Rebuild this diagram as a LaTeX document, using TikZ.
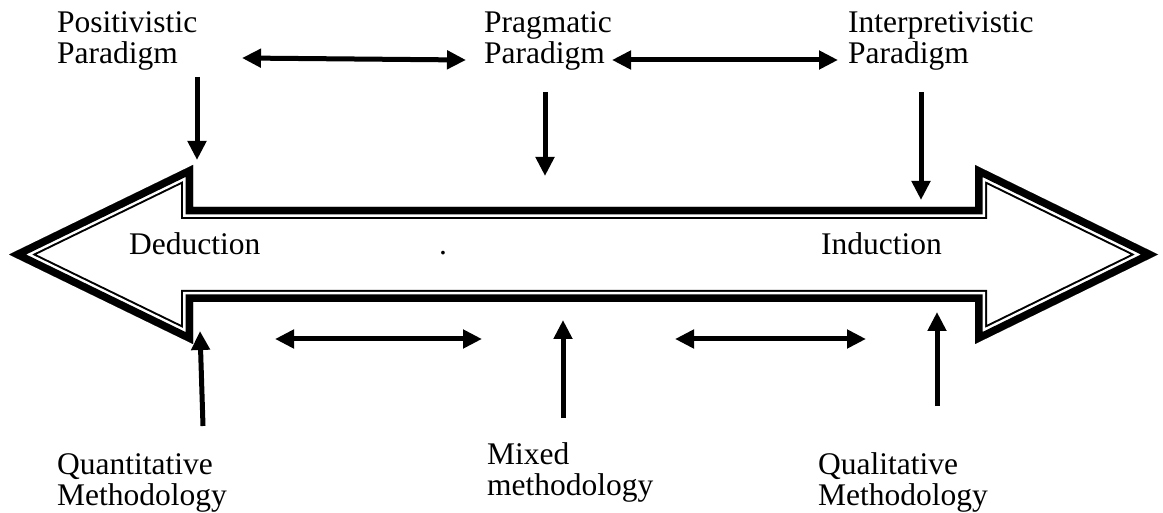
\documentclass[tikz,border=0pt]{standalone}
\usepackage{fontspec}
\setmainfont{Liberation Serif}
\usetikzlibrary{arrows.meta}

\begin{document}
\begin{tikzpicture}[x=1pt,y=-1pt,
  lbl/.style={anchor=base west,inner sep=0pt,align=left,
    font=\fontsize{31.5}{30.6}\selectfont},
  onearrow/.style={line width=5pt,-{Triangle[length=19pt,width=18pt]}},
  twoarrow/.style={line width=5pt,{Triangle[length=19pt,width=18pt]}-{Triangle[length=19pt,width=18pt]}}]
\useasboundingbox[fill=white] (0,0) rectangle (1163,513);

% outline of the wide two-headed arrow
\def\bigarrow{(9,254.5) -- (193,165) -- (193,207) -- (975,207) -- (975,165)
  -- (1158,254.5) -- (975,344) -- (975,302) -- (193,302) -- (193,344) -- cycle}
\fill[white] \bigarrow;
\begin{scope}
  \clip \bigarrow;
  % thick outer rule, white gap and thin inner rule, all kept inside the outline
  \draw[line width=24pt] \bigarrow;
  \draw[white,line width=20pt] \bigarrow;
  \draw[line width=15pt] \bigarrow;
\end{scope}

% labels (a two-line label is placed by the baseline of its last line)
\node[lbl] (pos) at (57,63.3) {Positivistic\\Paradigm};
\node[lbl] (prag) at (484,63.3) {Pragmatic\\Paradigm};
\node[lbl] (int) at (848,63.3) {Interpretivistic\\Paradigm};
\node[lbl] (ded) at (129,255) {Deduction};
\node[lbl] (dot) at (439,255) {.};
\node[lbl] (ind) at (821,255) {Induction};
\node[lbl] (quant) at (57,505) {Quantitative\\Methodology};
\node[lbl] (mixed) at (487,495) {Mixed\\methodology};
\node[lbl] (qual) at (818,505) {Qualitative\\Methodology};

% arrow end points
\coordinate (pp1) at (242,58);   \coordinate (pp2) at (466,60);
\coordinate (pi1) at (612,60);   \coordinate (pi2) at (838,60);
\coordinate (d1a) at (197,77);   \coordinate (d1b) at (197,160);
\coordinate (d2a) at (545,92);   \coordinate (d2b) at (545,176);
\coordinate (d3a) at (921,92);   \coordinate (d3b) at (921,200);
\coordinate (u1a) at (203,426);  \coordinate (u1b) at (200,331);
\coordinate (u2a) at (563,418);  \coordinate (u2b) at (563,320);
\coordinate (u3a) at (937,406);  \coordinate (u3b) at (937,312);
\coordinate (qm1) at (275,339);  \coordinate (qm2) at (482,339);
\coordinate (mq1) at (675,339);  \coordinate (mq2) at (866,339);

% paradigms linked to each other and down to the reasoning axis
\draw[twoarrow] (pp1) -- (pp2);
\draw[twoarrow] (pi1) -- (pi2);
\draw[onearrow] (d1a) -- (d1b);
\draw[onearrow] (d2a) -- (d2b);
\draw[onearrow] (d3a) -- (d3b);

% methodologies linked to each other and up to the reasoning axis
\draw[twoarrow] (qm1) -- (qm2);
\draw[twoarrow] (mq1) -- (mq2);
\draw[onearrow] (u1a) -- (u1b);
\draw[onearrow] (u2a) -- (u2b);
\draw[onearrow] (u3a) -- (u3b);
\end{tikzpicture}
\end{document}
